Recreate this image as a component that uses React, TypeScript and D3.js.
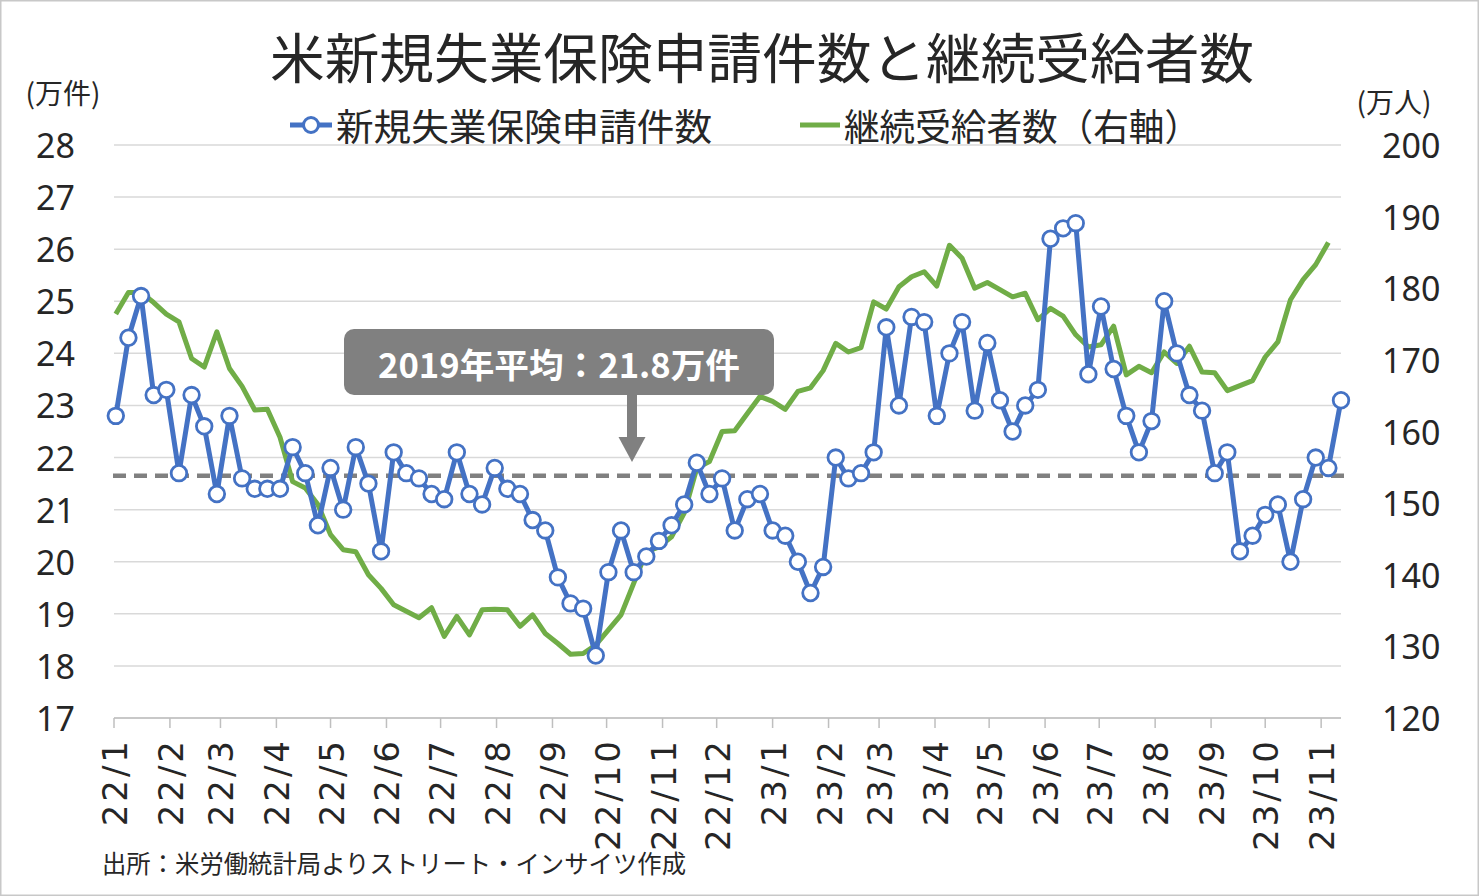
import React from "react";
import * as d3 from "d3";

// 新規失業保険申請件数（万件）— weekly
const initialClaims = [
  22.8, 24.3, 25.1, 23.2, 23.3, 21.7, 23.2, 22.6, 21.3, 22.8,
  21.6, 21.4, 21.4, 21.4, 22.2, 21.7, 20.7, 21.8, 21.0, 22.2,
  21.5, 20.2, 22.1, 21.7, 21.6, 21.3, 21.2, 22.1, 21.3, 21.1,
  21.8, 21.4, 21.3, 20.8, 20.6, 19.7, 19.2, 19.1, 18.2, 19.8,
  20.6, 19.8, 20.1, 20.4, 20.7, 21.1, 21.9, 21.3, 21.6, 20.6,
  21.2, 21.3, 20.6, 20.5, 20.0, 19.4, 19.9, 22.0, 21.6, 21.7,
  22.1, 24.5, 23.0, 24.7, 24.6, 22.8, 24.0, 24.6, 22.9, 24.2,
  23.1, 22.5, 23.0, 23.3, 26.2, 26.4, 26.5, 23.6, 24.9, 23.7,
  22.8, 22.1, 22.7, 25.0, 24.0, 23.2, 22.9, 21.7, 22.1, 20.2,
  20.5, 20.9, 21.1, 20.0, 21.2, 22.0, 21.8, 23.1,
];

// 継続受給者数（万人）— weekly, right axis
const continuingClaims = [
  176.4, 179.4, 179.4, 178.0, 176.4, 175.3, 170.2, 169.0, 173.9, 168.8,
  166.3, 163.0, 163.1, 159.2, 153.0, 152.1, 149.8, 145.6, 143.5, 143.2,
  140.0, 138.1, 135.8, 134.9, 134.0, 135.4, 131.4, 134.2, 131.6, 135.1,
  135.2, 135.1, 132.8, 134.4, 131.8, 130.4, 128.9, 129.0, 130.2, 132.3,
  134.4, 138.8, 143.2, 143.9, 145.3, 148.6, 154.9, 155.8, 160.0, 160.1,
  162.5, 164.9, 164.2, 163.1, 165.6, 166.1, 168.5, 172.3, 171.1, 171.7,
  178.1, 177.1, 180.2, 181.6, 182.3, 180.3, 186.0, 184.2, 180.0, 180.8,
  179.8, 178.8, 179.3, 175.6, 177.2, 176.1, 173.5, 171.8, 172.1, 174.7,
  167.9, 169.1, 168.2, 171.1, 169.5, 171.9, 168.3, 168.2, 165.7, 166.4,
  167.1, 170.4, 172.5, 178.4, 181.2, 183.3, 186.4,
];

const firstWeek = new Date(2022, 0, 2);
const weekDates = initialClaims.map((_, i) => d3.timeDay.offset(firstWeek, 7 * i));

const monthLabels = [
  "22/1", "22/2", "22/3", "22/4", "22/5", "22/6", "22/7", "22/8", "22/9", "22/10", "22/11", "22/12",
  "23/1", "23/2", "23/3", "23/4", "23/5", "23/6", "23/7", "23/8", "23/9", "23/10", "23/11",
];
const monthDates = monthLabels.map((l) => {
  const [yy, mm] = l.split("/").map(Number);
  return new Date(2000 + yy, mm - 1, 1);
});

const leftTicks = [17, 18, 19, 20, 21, 22, 23, 24, 25, 26, 27, 28];
const rightTicks = [120, 130, 140, 150, 160, 170, 180, 190, 200];
const avgLevel = 21.65;

const TITLE = "米新規失業保険申請件数と継続受給者数";
const LEGEND_BLUE = "新規失業保険申請件数";
const LEGEND_GREEN = "継続受給者数（右軸）";
const ANNOT = "2019年平均：21.8万件";
const SOURCE = "出所：米労働統計局よりストリート・インサイツ作成";

const W = 1479;
const H = 896;
const PL = 114;
const PR = 1341;
const PT = 145;
const PB = 718;

const JP = "'Noto Sans CJK JP', 'Noto Sans', sans-serif";
const NUM = "'Noto Sans', 'Noto Sans CJK JP', sans-serif";
const XNUM = "'DejaVu Sans', 'Noto Sans', sans-serif";
const BLUE = "#4472C4";
const GREEN = "#70AD47";
const TXT = "#262626";

export default function App() {
  const x = d3.scaleTime().domain([new Date(2022, 0, 1), new Date(2023, 10, 12)]).range([PL, PR]);
  const yL = d3.scaleLinear().domain([17, 28]).range([PB, PT]);
  const yR = d3.scaleLinear().domain([120, 200]).range([PB, PT]);

  const blueLine = d3
    .line<number>()
    .x((_, i) => x(weekDates[i]))
    .y((d) => yL(d))(initialClaims) as string;
  const greenLine = d3
    .line<number>()
    .x((_, i) => x(weekDates[i]))
    .y((d) => yR(d))(continuingClaims) as string;

  const avgY = yL(avgLevel);

  // annotation box geometry
  const boxX = 344, boxY = 329, boxW = 430, boxH = 66;
  const arrowX = 632;

  return (
    <svg
      width={W}
      height={H}
      style={{ position: "absolute", left: 0, top: 0, background: "#fff" }}
    >
      <rect x={0.75} y={0.75} width={W - 1.5} height={H - 1.5} fill="#fff" stroke="#c8c8c8" strokeWidth={1.5} />

      <text x={762} y={55} textAnchor="middle" dominantBaseline="central" fontFamily={JP} fontSize={54} fill={TXT} textLength={984} lengthAdjust="spacingAndGlyphs">
        {TITLE}
      </text>

      {/* legend */}
      <g>
        <line x1={290} x2={332} y1={125} y2={125} stroke={BLUE} strokeWidth={5} />
        <circle cx={311} cy={125} r={7.5} fill="#fff" stroke={BLUE} strokeWidth={3} />
        <text x={336} y={125} dominantBaseline="central" fontFamily={JP} fontSize={37} fill={TXT} textLength={376} lengthAdjust="spacingAndGlyphs">
          {LEGEND_BLUE}
        </text>
        <line x1={800} x2={840} y1={125} y2={125} stroke={GREEN} strokeWidth={5} />
        <text x={844} y={125} dominantBaseline="central" fontFamily={JP} fontSize={37} fill={TXT} textLength={356} lengthAdjust="spacingAndGlyphs">
          {LEGEND_GREEN}
        </text>
      </g>

      {/* axis units */}
      <text x={63} y={92} textAnchor="middle" dominantBaseline="central" fontFamily={JP} fontSize={28} fill={TXT}>
        (万件)
      </text>
      <text x={1394} y={101} textAnchor="middle" dominantBaseline="central" fontFamily={JP} fontSize={28} fill={TXT}>
        (万人)
      </text>

      {/* gridlines */}
      {leftTicks.map((t) => (
        <line key={"g" + t} x1={PL} x2={PR} y1={yL(t)} y2={yL(t)} stroke="#d9d9d9" strokeWidth={1.5} />
      ))}

      {/* left ticks */}
      {leftTicks.map((t) => (
        <text key={"l" + t} x={75} y={yL(t)} textAnchor="end" dominantBaseline="central" fontFamily={NUM} fontSize={34} fill={TXT}>
          {t}
        </text>
      ))}
      {/* right ticks */}
      {rightTicks.map((t) => (
        <text key={"r" + t} x={1382} y={yR(t)} textAnchor="start" dominantBaseline="central" fontFamily={NUM} fontSize={34} fill={TXT}>
          {t}
        </text>
      ))}

      {/* bottom axis */}
      <line x1={PL} x2={PR} y1={PB} y2={PB} stroke="#bfbfbf" strokeWidth={1.5} />
      {monthDates.map((d, i) => (
        <g key={"m" + i}>
          <line x1={x(d)} x2={x(d)} y1={PB} y2={PB + 10} stroke="#bfbfbf" strokeWidth={1.5} />
          <text
            transform={`translate(${x(d) + 1},${PB + 20}) rotate(-90)`}
            textAnchor="end"
            dominantBaseline="central"
            fontFamily={XNUM}
            fontSize={34}
            letterSpacing={3}
            fill={TXT}
          >
            {monthLabels[i]}
          </text>
        </g>
      ))}

      {/* average dashed line */}
      <line x1={113} x2={1346} y1={avgY} y2={avgY} stroke="#808080" strokeWidth={4.5} strokeDasharray="13 8" />

      {/* series */}
      <path d={greenLine} fill="none" stroke={GREEN} strokeWidth={5} strokeLinejoin="round" />
      <path d={blueLine} fill="none" stroke={BLUE} strokeWidth={5} strokeLinejoin="round" />
      {initialClaims.map((v, i) => (
        <circle key={"c" + i} cx={x(weekDates[i])} cy={yL(v)} r={7.8} fill="#fff" stroke={BLUE} strokeWidth={2.8} />
      ))}

      {/* annotation */}
      <rect x={boxX} y={boxY} width={boxW} height={boxH} rx={10} fill="#808080" />
      <rect x={arrowX - 5} y={boxY + boxH - 1} width={10} height={43} fill="#808080" />
      <path d={`M${arrowX - 13.5},${boxY + boxH + 42} L${arrowX + 13.5},${boxY + boxH + 42} L${arrowX},${boxY + boxH + 67} Z`} fill="#808080" />
      <text x={boxX + boxW / 2} y={boxY + boxH / 2 + 1} textAnchor="middle" dominantBaseline="central" fontFamily={JP} fontWeight="bold" fontSize={34} fill="#fff" textLength={362} lengthAdjust="spacingAndGlyphs">
        {ANNOT}
      </text>

      {/* source */}
      <text x={102} y={862} dominantBaseline="central" fontFamily={JP} fontSize={25} fill={TXT} textLength={584} lengthAdjust="spacingAndGlyphs">
        {SOURCE}
      </text>
    </svg>
  );
}
